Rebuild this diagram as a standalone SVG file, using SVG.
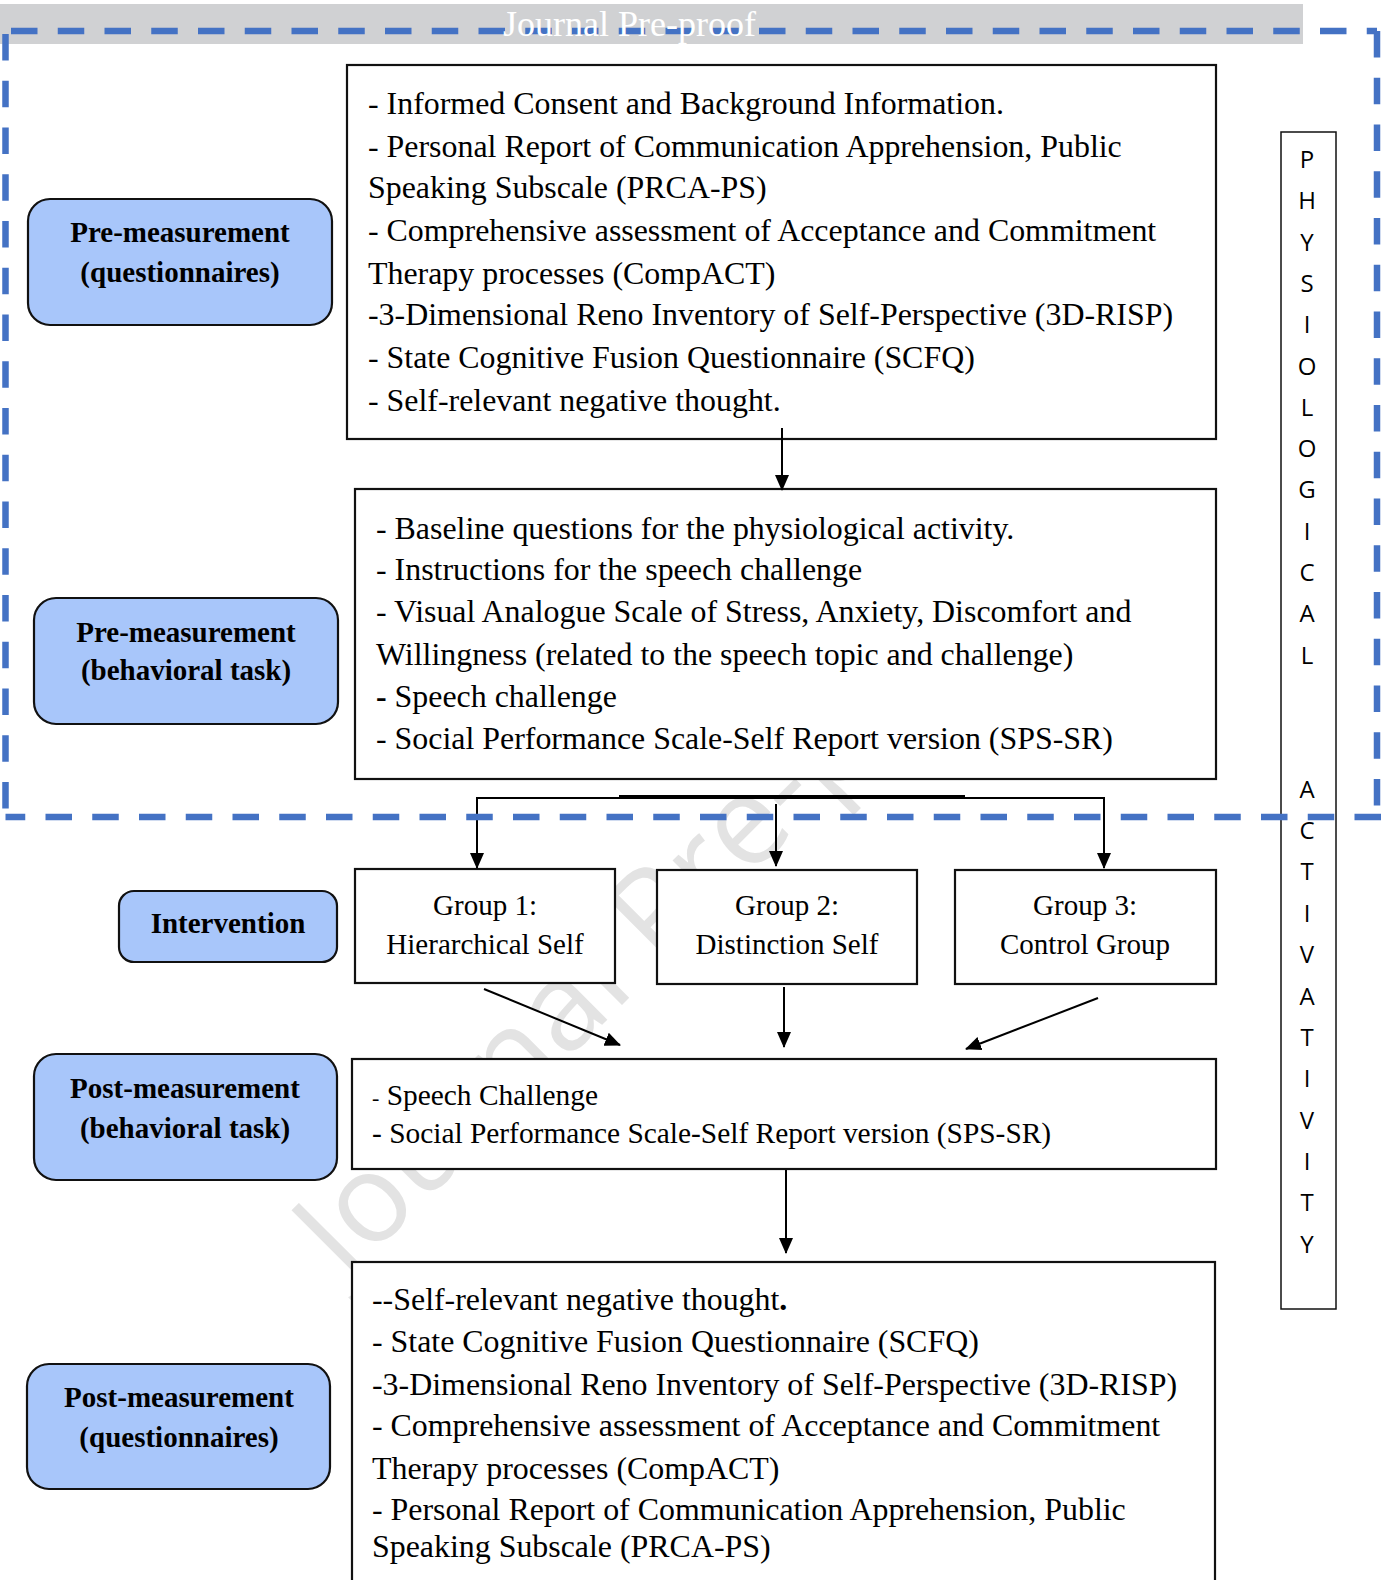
<svg xmlns="http://www.w3.org/2000/svg" width="1381" height="1580" viewBox="0 0 1381 1580">
<style>
.box{fill:#fff;stroke:#111;stroke-width:2.2}
.lbl{fill:#a8c6fa;stroke:#111;stroke-width:2.2}
.t{font-family:"Liberation Serif","Times New Roman",serif;font-size:31.9px;fill:#000}
.ts{font-family:"Liberation Serif","Times New Roman",serif;font-size:29.4px;fill:#000}
.tb{font-family:"Liberation Serif","Times New Roman",serif;font-size:29px;font-weight:bold;fill:#000;text-anchor:middle}
.tg{font-family:"Liberation Serif","Times New Roman",serif;font-size:29px;fill:#000;text-anchor:middle}
.v{font-family:"Open Sans","Noto Sans",sans-serif;font-size:24px;fill:#000;text-anchor:middle}
.c{stroke:#000;stroke-width:2;fill:none}
.dash{stroke:#4472c4;stroke-width:6.5;fill:none;stroke-dasharray:26.5 20.25}
</style>
<defs>
<marker id="ah" markerUnits="userSpaceOnUse" markerWidth="16" markerHeight="16" viewBox="0 0 16 16" refX="15" refY="8" orient="auto">
<path d="M0,1 L16,8 L0,15 Z" fill="#000"/>
</marker>
</defs>
<rect x="0" y="0" width="1381" height="1580" fill="#fff"/>
<rect x="0" y="4" width="1303" height="40" fill="#d0d1d3"/>
<text x="346" y="1281" transform="rotate(-45 346 1281)" font-family="'Open Sans','Noto Sans',sans-serif" font-size="124" fill="#e3e3e3">Journal Pre-proof</text>

<g id="pre-quest-box">
<rect class="box" x="347" y="65" width="869" height="374"/>
<text class="t" x="368" y="114">- Informed Consent and Background Information.</text>
<text class="t" x="368" y="157">- Personal Report of Communication Apprehension, Public</text>
<text class="t" x="368" y="198">Speaking Subscale (PRCA-PS)</text>
<text class="t" x="368" y="241">- Comprehensive assessment of Acceptance and Commitment</text>
<text class="t" x="368" y="284">Therapy processes (CompACT)</text>
<text class="t" x="368" y="325">-3-Dimensional Reno Inventory of Self-Perspective (3D-RISP)</text>
<text class="t" x="368" y="368">- State Cognitive Fusion Questionnaire (SCFQ)</text>
<text class="t" x="368" y="411">- Self-relevant negative thought.</text>
</g>
<g id="pre-task-box">
<rect class="box" x="355" y="489" width="861" height="290"/>
<text class="t" x="376" y="539">- Baseline questions for the physiological activity.</text>
<text class="t" x="376" y="580">- Instructions for the speech challenge</text>
<text class="t" x="376" y="622">- Visual Analogue Scale of Stress, Anxiety, Discomfort and</text>
<text class="t" x="376" y="665">Willingness (related to the speech topic and challenge)</text>
<text class="t" x="376" y="707"><tspan font-weight="bold">-</tspan> Speech challenge</text>
<text class="t" x="376" y="749">- Social Performance Scale-Self Report version (SPS-SR)</text>
</g>
<g id="group1">
<rect class="box" x="355" y="869" width="260" height="114"/>
<text class="tg" x="485" y="915">Group 1:</text>
<text class="tg" x="485" y="954">Hierarchical Self</text>
</g>
<g id="group2">
<rect class="box" x="657" y="870" width="260" height="114"/>
<text class="tg" x="787" y="915">Group 2:</text>
<text class="tg" x="787" y="954">Distinction Self</text>
</g>
<g id="group3">
<rect class="box" x="955" y="870" width="261" height="114"/>
<text class="tg" x="1085" y="915">Group 3:</text>
<text class="tg" x="1085" y="954">Control Group</text>
</g>
<g id="post-task-box">
<rect class="box" x="352" y="1059" width="864" height="110"/>
<text class="ts" x="372" y="1105"><tspan font-size="22">-</tspan> Speech Challenge</text>
<text class="ts" x="372" y="1143">- Social Performance Scale-Self Report version (SPS-SR)</text>
</g>
<g id="post-quest-box">
<rect class="box" x="352" y="1262" width="863" height="340"/>
<text class="t" x="372" y="1310">--Self-relevant negative thought<tspan font-weight="bold">.</tspan></text>
<text class="t" x="372" y="1352">- State Cognitive Fusion Questionnaire (SCFQ)</text>
<text class="t" x="372" y="1395">-3-Dimensional Reno Inventory of Self-Perspective (3D-RISP)</text>
<text class="t" x="372" y="1436">- Comprehensive assessment of Acceptance and Commitment</text>
<text class="t" x="372" y="1479">Therapy processes (CompACT)</text>
<text class="t" x="372" y="1520">- Personal Report of Communication Apprehension, Public</text>
<text class="t" x="372" y="1557">Speaking Subscale (PRCA-PS)</text>
</g>

<g id="label-pre-quest">
<rect class="lbl" x="28" y="199" width="304" height="126" rx="22"/>
<text class="tb" x="180" y="242">Pre-measurement</text>
<text class="tb" x="180" y="282">(questionnaires)</text>
</g>
<g id="label-pre-task">
<rect class="lbl" x="34" y="598" width="304" height="126" rx="22"/>
<text class="tb" x="186" y="642">Pre-measurement</text>
<text class="tb" x="186" y="680">(behavioral task)</text>
</g>
<g id="label-intervention">
<rect class="lbl" x="119" y="891" width="218" height="71" rx="15"/>
<text class="tb" x="228" y="933">Intervention</text>
</g>
<g id="label-post-task">
<rect class="lbl" x="34" y="1054" width="303" height="126" rx="22"/>
<text class="tb" x="185" y="1098">Post-measurement</text>
<text class="tb" x="185" y="1138">(behavioral task)</text>
</g>
<g id="label-post-quest">
<rect class="lbl" x="27" y="1364" width="303" height="125" rx="22"/>
<text class="tb" x="179" y="1407">Post-measurement</text>
<text class="tb" x="179" y="1447">(questionnaires)</text>
</g>

<g id="physio">
<rect x="1281" y="132" width="55" height="1177" fill="#fff" stroke="#111" stroke-width="1.5"/>
<text class="v" x="1307" y="168">P</text>
<text class="v" x="1307" y="209">H</text>
<text class="v" x="1307" y="251">Y</text>
<text class="v" x="1307" y="292">S</text>
<text class="v" x="1307" y="333">I</text>
<text class="v" x="1307" y="375">O</text>
<text class="v" x="1307" y="416">L</text>
<text class="v" x="1307" y="457">O</text>
<text class="v" x="1307" y="498">G</text>
<text class="v" x="1307" y="540">I</text>
<text class="v" x="1307" y="581">C</text>
<text class="v" x="1307" y="622">A</text>
<text class="v" x="1307" y="664">L</text>
<text class="v" x="1307" y="798">A</text>
<text class="v" x="1307" y="839">C</text>
<text class="v" x="1307" y="880">T</text>
<text class="v" x="1307" y="922">I</text>
<text class="v" x="1307" y="963">V</text>
<text class="v" x="1307" y="1005">A</text>
<text class="v" x="1307" y="1046">T</text>
<text class="v" x="1307" y="1087">I</text>
<text class="v" x="1307" y="1129">V</text>
<text class="v" x="1307" y="1170">I</text>
<text class="v" x="1307" y="1211">T</text>
<text class="v" x="1307" y="1253">Y</text>
</g>

<g id="connectors">
<line class="c" x1="782" y1="428" x2="782" y2="490" marker-end="url(#ah)"/>
<path class="c" d="M477,868 V798 H1104 V868" marker-end="url(#ah)"/>
<line class="c" x1="477" y1="810" x2="477" y2="868" marker-end="url(#ah)"/>
<line class="c" x1="619" y1="796" x2="965" y2="796"/>
<line class="c" x1="776" y1="804" x2="776" y2="866" marker-end="url(#ah)"/>
<line class="c" x1="484" y1="989" x2="620" y2="1045" marker-end="url(#ah)"/>
<line class="c" x1="784" y1="987" x2="784" y2="1047" marker-end="url(#ah)"/>
<line class="c" x1="1098" y1="998" x2="966" y2="1049" marker-end="url(#ah)"/>
<line class="c" x1="786" y1="1170" x2="786" y2="1253" marker-end="url(#ah)"/>
</g>

<g id="dashed-region">
<path class="dash" d="M11,31 H1377"/>
<path class="dash" d="M1377,31 V817"/>
<path class="dash" d="M1381,817 H5.5"/>
<path class="dash" d="M5.5,34 V817"/>
</g>
<text x="503" y="36" font-family="'Liberation Serif','Times New Roman',serif" font-size="36" fill="#fff">Journal Pre-proof</text>
</svg>
